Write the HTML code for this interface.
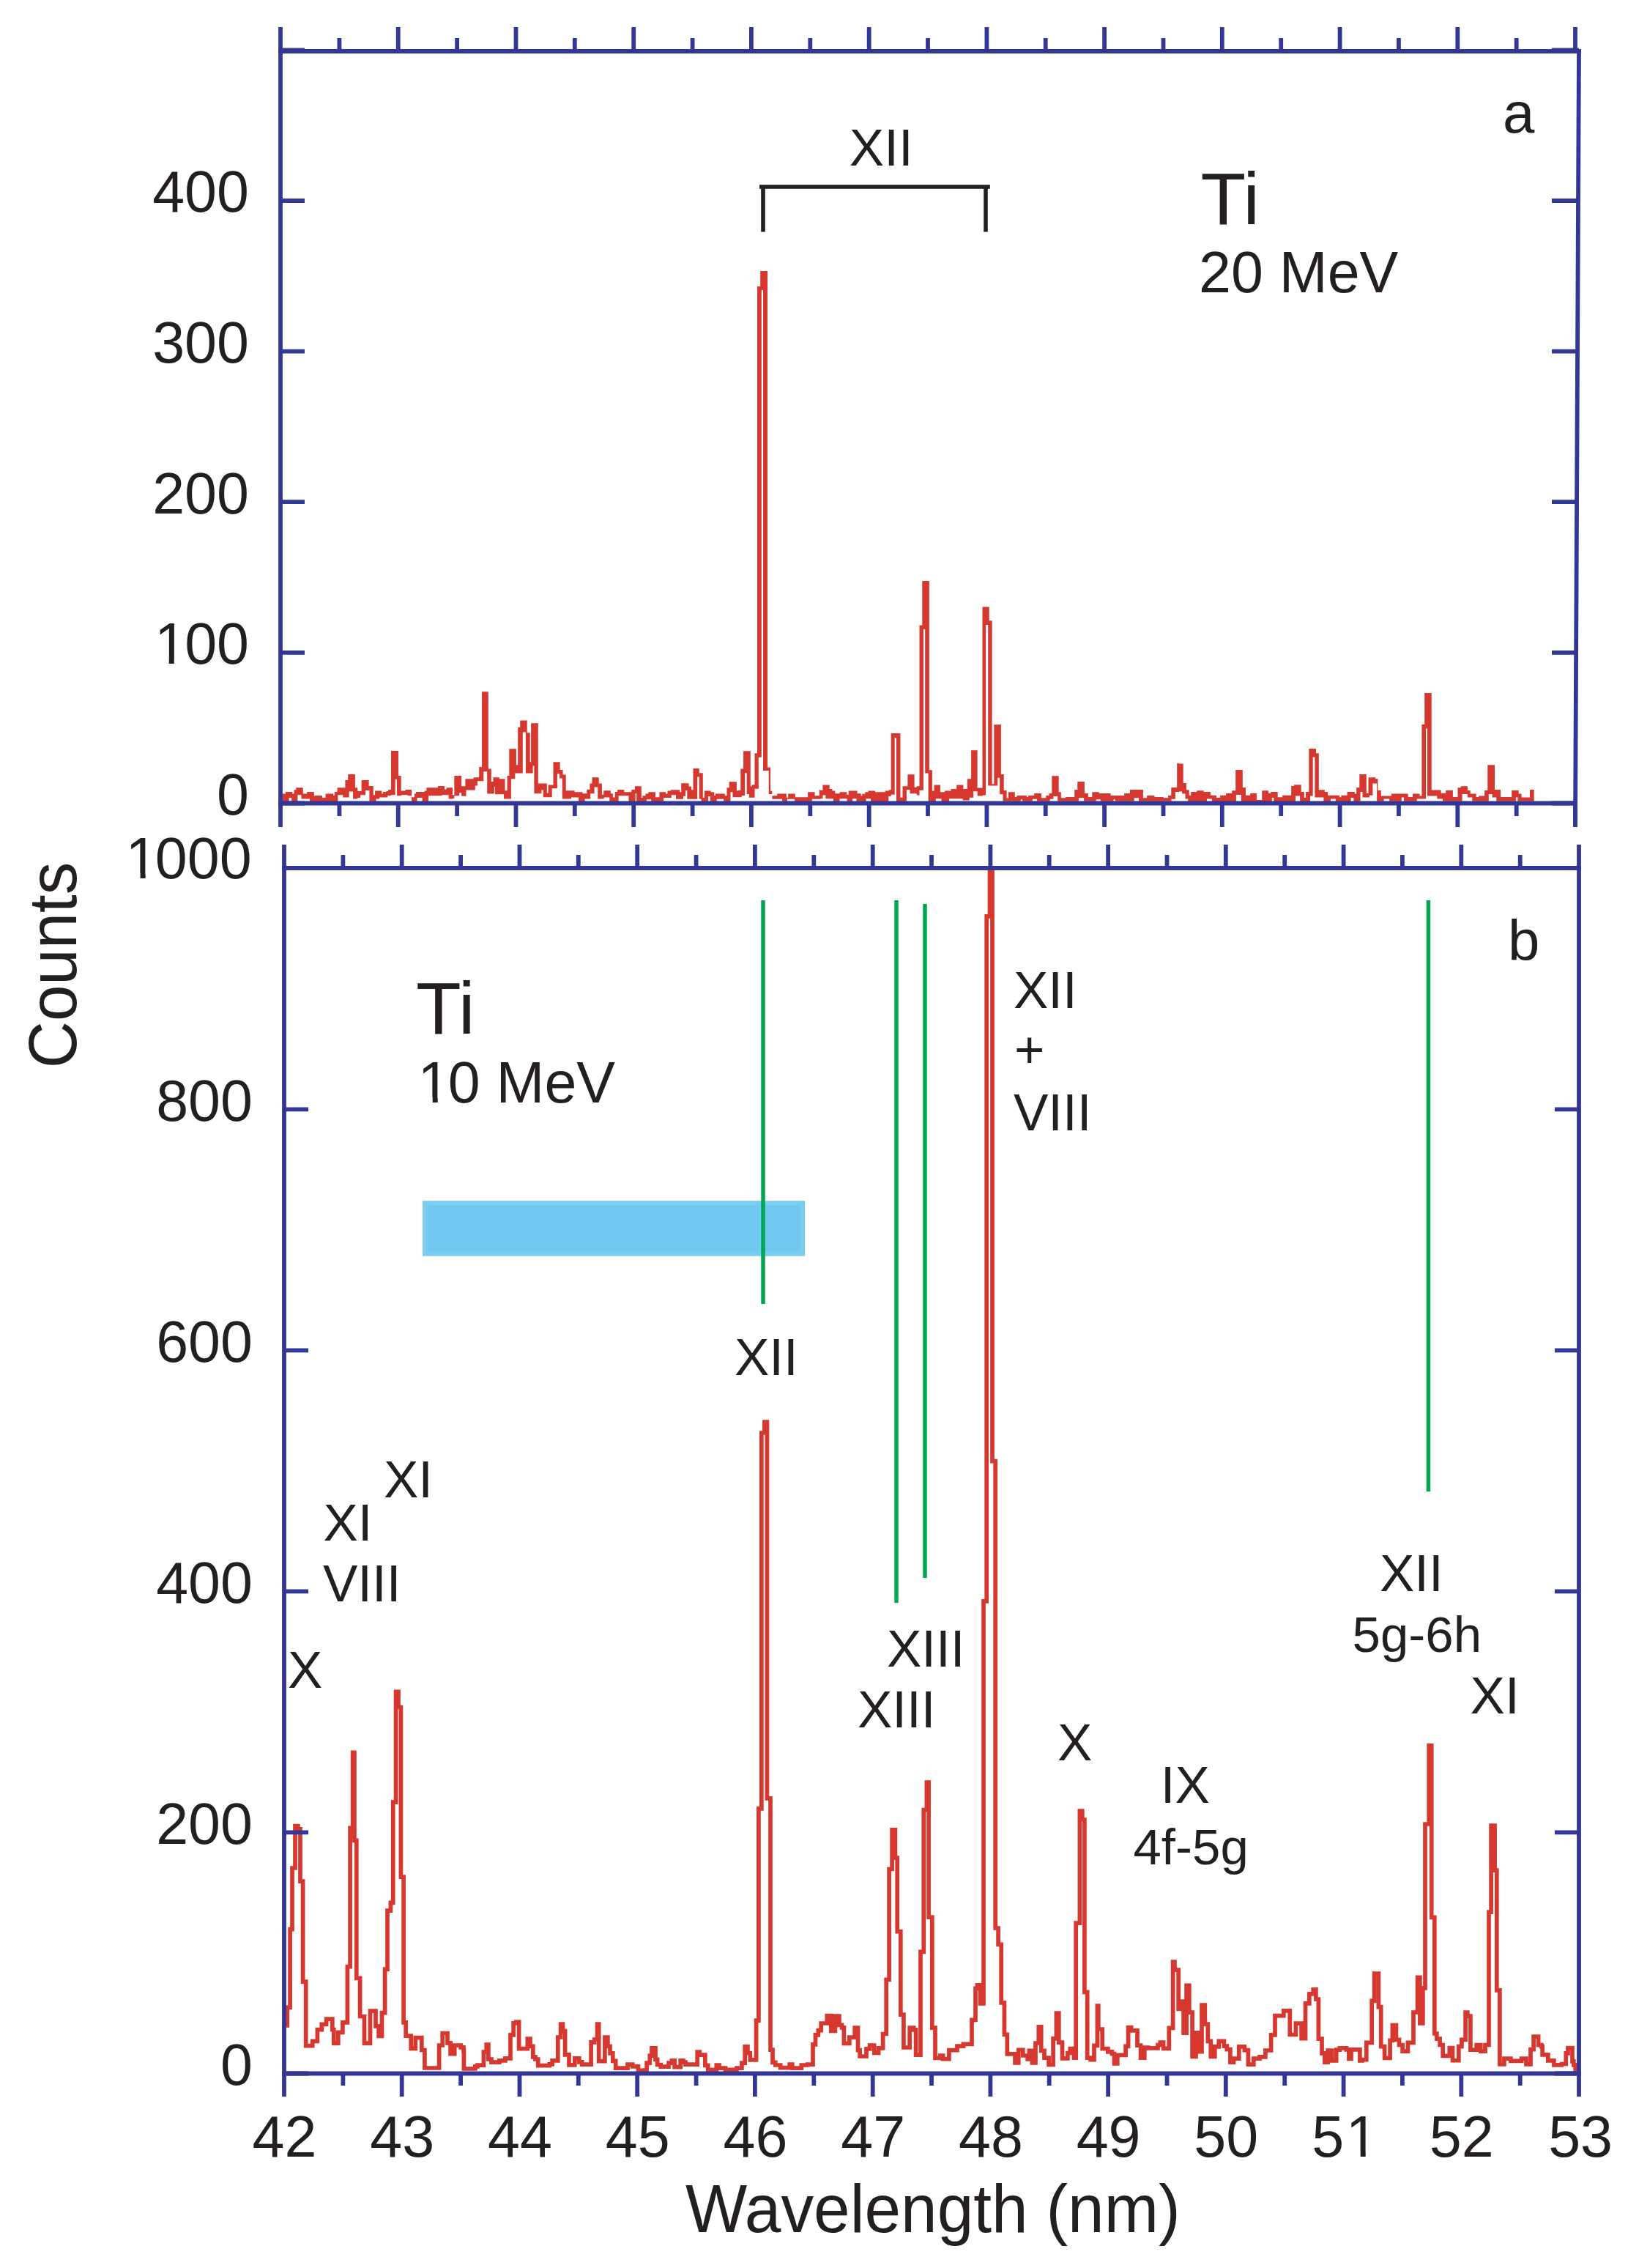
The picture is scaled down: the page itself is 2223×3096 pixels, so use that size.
<!DOCTYPE html>
<html><head><meta charset="utf-8"><title>Ti spectra</title>
<style>html,body{margin:0;padding:0;background:#fff;width:2223px;height:3096px;overflow:hidden}svg{display:block}</style>
</head><body>
<svg width="2223" height="3096" viewBox="0 0 2223 3096" font-family="'Liberation Sans', Arial, Helvetica, sans-serif" fill="#231f20">
<rect width="2223" height="3096" fill="#fff"/>
<path d="M390.8,2764.8H392.2V2740.3H396.1V2633.6H399.0V2550.0H403.0V2492.7H406.9V2496.9H410.0V2568.2H413.6V2705.2H417.7V2792.7H426.7V2786.4H433.4V2770.6H439.3V2763.4H445.6V2756.1H453.8V2770.6H455.8V2789.1H461.8V2774.3H467.9V2760.9H474.4V2684.6H478.1V2495.4H481.7V2392.3H483.9V2512.4H486.8V2700.3H491.6V2752.5H497.5V2789.1H505.5V2745.2H513.0V2765.8H517.1V2779.4H521.5V2747.6H525.6V2688.2H529.0V2608.2H533.4V2597.3H536.7V2460.2H540.6V2309.4H544.0V2330.5H547.4V2562.1H551.1V2760.9H554.2V2779.1H561.2V2796.4H567.3V2781.6H575.8V2798.5H579.9V2823.0H599.6V2792.0H604.2V2775.5H611.0V2788.8H615.1V2803.6H620.7V2792.0H629.1V2794.9H633.0V2799.1H633.4V2824.0H648.9V2820.9H652.0V2819.1H660.4V2801.0H664.2V2791.0H666.9V2811.0H671.0V2815.1H681.9V2812.9H689.9V2809.9H697.0V2777.9H701.1V2761.8H704.9V2760.0H708.6V2796.7H720.3V2783.0H724.0V2793.3H727.8V2807.9H730.9V2811.0H734.7V2819.7H750.2V2817.9H754.1V2812.9H761.8V2781.0H765.6V2763.0H768.5V2772.6H771.6V2804.8H777.0V2818.8H784.8V2809.9H790.8V2814.8H794.6V2818.2H807.1V2787.9H811.7V2784.1H815.5V2763.0H817.7V2813.7H825.9V2781.0H829.9V2793.3H833.0V2802.8H836.8V2813.3H840.7V2823.2H857.0V2818.2H863.7V2820.9H871.4V2826.3H880.0V2826.2H883.1V2816.2H887.3V2806.2H890.0V2795.9H895.0V2811.3H897.6V2818.5H902.2V2821.1H913.1V2816.2H917.4V2812.8H921.1V2821.7H929.2V2812.8H932.9V2815.0H936.0V2818.1H952.2V2801.2H955.2V2805.2H962.8V2819.3H966.7V2825.4H978.3V2819.0H982.0V2823.1H990.5V2825.4H1006.0V2823.1H1012.9V2816.2H1017.2V2793.9H1020.9V2802.7H1024.3V2811.9H1032.6V2758.2H1035.9V2468.9H1039.8V1956.0H1043.9V1941.1H1047.4V2454.9H1052.0V2798.1H1055.0V2815.4H1058.8V2819.0H1065.7V2822.7H1078.2V2818.1H1081.8V2823.1H1094.3V2819.0H1102.7V2818.1H1110.0V2790.9H1113.5V2777.8H1117.3V2771.7H1121.2V2762.0H1125.0V2762.0H1129.3V2751.5H1134.8V2772.4H1140.4V2752.0H1145.9V2764.4H1149.6V2767.8H1152.4V2789.4H1159.8V2781.1H1167.2V2768.1H1171.5V2798.7H1174.1V2807.0H1183.0V2796.9H1187.6V2792.2H1193.7V2802.4H1199.6V2795.9H1205.6V2776.5H1210.2V2702.4H1214.1V2551.5H1218.1V2497.8H1222.4V2536.1H1225.2V2636.7H1229.8V2750.2H1233.9V2795.0H1242.2V2768.1H1247.8V2770.9H1250.6V2805.2H1257.0V2664.4H1261.3V2470.6H1265.4V2433.0H1268.1V2617.2H1272.8V2768.1H1277.0V2809.4H1283.9V2806.1H1287.6V2810.7H1295.9V2798.7H1307.0V2793.1H1315.4V2790.4H1327.0V2757.4H1332.0V2714.4H1334.4V2709.8H1338.5V2734.8H1343.0V2185.9H1347.2V1250.9H1351.5V1185.9H1355.0V1994.6H1359.2V2632.0H1363.1V2654.3H1367.2V2733.9H1370.0V2733.9H1371.4V2777.4H1375.3V2803.9H1386.0V2816.0H1390.8V2798.4H1396.8V2806.0H1403.2V2810.8H1405.4V2799.3H1409.4V2816.0H1414.0V2789.0H1418.3V2766.9H1421.7V2799.3H1426.0V2809.1H1432.1V2818.5H1438.1V2782.9H1442.4V2748.2H1445.8V2788.1H1450.5V2809.9H1457.9V2802.5H1461.3V2796.7H1466.5V2809.1H1469.2V2625.1H1474.4V2472.0H1477.8V2484.0H1480.9V2719.3H1484.7V2809.1H1489.2V2811.7H1494.0V2792.4H1498.4V2738.2H1499.8V2770.0H1505.2V2796.7H1512.9V2800.8H1518.4V2803.6H1521.5V2816.8H1525.8V2805.3H1537.1V2793.3H1540.6V2767.5H1544.7V2771.8H1553.0V2792.2H1557.6V2809.1H1562.8V2795.0H1567.6V2795.8H1581.0V2791.5H1584.4V2788.1H1588.6V2796.3H1596.3V2768.3H1601.6V2678.0H1604.0V2689.2H1609.2V2742.3H1611.8V2732.0H1615.0V2734.8H1616.1V2775.2H1620.1V2710.3H1623.8V2747.1H1628.1V2807.5H1633.0V2774.8H1636.1V2800.6H1641.0V2737.1H1645.3V2763.2H1649.3V2786.3H1653.3V2807.5H1658.8V2793.9H1664.2V2786.3H1671.4V2793.2H1675.3V2797.6H1679.9V2815.1H1684.5V2810.1H1691.8V2793.9H1699.4V2798.6H1704.4V2818.2H1711.8V2810.1H1720.0V2807.8H1727.9V2799.0H1735.6V2777.8H1741.0V2751.7H1752.8V2744.8H1761.3V2777.5H1769.4V2762.0H1777.1V2782.6H1782.5V2734.8H1787.8V2721.8H1793.2V2715.9H1796.9V2729.0H1800.4V2783.2H1805.0V2802.9H1808.9V2815.1H1813.2V2799.0H1818.8V2812.8H1824.7V2798.1H1829.3V2795.9H1838.5V2797.8H1841.9V2810.5H1845.0V2797.8H1856.9V2812.8H1860.0V2811.6H1865.8V2788.4H1873.2V2731.4H1876.6V2694.1H1882.4V2739.7H1885.7V2793.6H1890.6V2809.5H1898.1V2785.3H1901.4V2764.6H1906.4V2784.3H1910.5V2791.5H1915.1V2800.2H1922.4V2788.4H1930.0V2747.0H1935.6V2699.3H1938.9V2761.9H1942.9V2713.8H1946.0V2490.0H1951.2V2382.8H1954.7V2617.4H1958.8V2776.0H1961.9V2783.2H1966.1V2791.5H1970.2V2806.4H1979.3V2795.7H1983.5V2812.6H1991.8V2793.6H1995.9V2784.3H2001.1V2747.0H2003.8V2752.1H2007.9V2798.1H2016.2V2791.5H2021.8V2800.2H2028.0V2791.5H2033.0V2610.2H2036.1V2492.1H2041.1V2553.2H2043.8V2716.9H2047.9V2817.8H2053.9V2810.2H2062.9V2813.3H2077.6V2810.2H2084.0V2817.8H2090.0V2797.7H2094.1V2780.1H2100.6V2791.7H2105.0V2793.9H2106.1V2804.9H2113.8V2812.9H2121.9V2818.8H2132.5V2817.5H2138.3V2802.8H2141.0V2795.7H2147.0V2813.8H2148.8V2818.9H2151.2V2825.3H2153.1" fill="none" stroke="#d6372e" stroke-width="5.7" stroke-linejoin="miter" stroke-miterlimit="10"/>
<path d="M385.8,1083.4 L390.0,1083.4 L390.0,1081.1 L399.2,1081.1 L399.2,1083.4 L401.5,1083.4 L401.5,1078.3 L404.3,1078.3 L404.3,1075.3 L413.8,1075.3 L413.8,1083.4 L419.2,1083.4 L419.2,1081.1 L428.8,1081.1 L428.8,1086.3 L430.7,1086.3 L430.7,1086.0 L439.9,1086.0 L439.9,1089.1 L444.5,1089.1 L444.5,1083.4 L455.2,1083.4 L455.2,1086.0 L456.8,1086.0 L456.8,1081.1 L460.6,1081.1 L460.6,1075.3 L471.4,1075.3 L471.4,1065.0 L475.2,1065.0 L475.2,1057.1 L484.9,1057.1 L484.9,1075.3 L488.3,1075.3 L488.3,1079.9 L493.6,1079.9 L493.6,1065.0 L503.6,1065.0 L503.6,1073.0 L509.8,1073.0 L509.8,1085.2 L512.1,1085.2 L512.1,1079.4 L521.0,1079.4 L521.0,1083.4 L522.8,1083.4 L522.8,1081.1 L527.4,1081.1 L527.4,1079.9 L530.2,1079.9 L530.2,1078.0 L534.0,1078.0 L534.0,1025.0 L544.0,1025.0 L544.0,1059.1 L547.7,1059.1 L547.7,1079.4 L553.5,1079.4 L553.5,1078.0 L562.0,1078.0 L562.0,1088.3 L565.8,1088.3 L565.8,1083.4 L568.1,1083.4 L568.1,1081.1 L579.6,1081.1 L579.6,1079.4 L582.4,1079.4 L582.4,1075.3 L598.1,1075.3 L598.1,1073.0 L607.0,1073.0 L607.0,1077.6 L609.6,1077.6 L609.6,1075.3 L618.0,1075.3 L618.0,1085.2 L620.3,1085.2 L620.3,1059.1 L630.1,1059.1 L630.1,1073.2 L635.4,1073.2 L635.4,1063.2 L646.5,1063.2 L646.5,1061.2 L654.2,1061.2 L654.2,1047.1 L658.0,1047.1 L658.0,944.2 L666.8,944.2 L666.8,1049.4 L670.8,1049.4 L670.8,1067.1 L673.4,1067.1 L673.4,1061.2 L681.8,1061.2 L681.8,1063.2 L689.5,1063.2 L689.5,1079.3 L692.6,1079.3 L692.6,1059.1 L695.3,1059.1 L695.3,1022.2 L704.9,1022.2 L704.9,1044.3 L707.2,1044.3 L707.2,993.0 L710.2,993.0 L710.2,983.4 L719.7,983.4 L719.7,1000.3 L723.7,1000.3 L723.7,1040.2 L725.1,1040.2 L725.1,987.2 L734.8,987.2 L734.8,1069.4 L746.8,1069.4 L746.8,1082.4 L748.6,1082.4 L748.6,1071.4 L755.5,1071.4 L755.5,1040.2 L764.7,1040.2 L764.7,1050.9 L768.6,1050.9 L768.6,1057.4 L772.7,1057.4 L772.7,1079.3 L784.7,1079.3 L784.7,1081.2 L795.5,1081.2 L795.5,1083.2 L801.3,1083.2 L801.3,1077.8 L805.4,1077.8 L805.4,1069.4 L808.5,1069.4 L808.5,1061.2 L817.7,1061.2 L817.7,1069.4 L821.9,1069.4 L821.9,1084.7 L824.3,1084.7 L824.3,1079.3 L833.8,1079.3 L833.8,1083.2 L836.9,1083.2 L836.9,1088.6 L839.7,1088.6 L839.7,1080.9 L843.1,1080.9 L843.1,1078.1 L852.3,1078.1 L852.3,1081.2 L862.3,1081.2 L862.3,1078.1 L866.9,1078.1 L866.9,1073.2 L875.1,1073.2 L875.1,1073.3 L875.8,1073.3 L875.8,1089.0 L877.4,1089.0 L877.4,1086.2 L881.5,1086.2 L881.5,1083.6 L885.4,1083.6 L885.4,1081.3 L894.9,1081.3 L894.9,1088.2 L900.4,1088.2 L900.4,1081.3 L909.2,1081.3 L909.2,1083.6 L911.5,1083.6 L911.5,1079.5 L915.8,1079.5 L915.8,1078.2 L928.4,1078.2 L928.4,1081.3 L930.2,1081.3 L930.2,1069.3 L940.6,1069.3 L940.6,1073.6 L944.0,1073.6 L944.0,1078.2 L946.5,1078.2 L946.5,1049.1 L954.8,1049.1 L954.8,1055.2 L959.8,1055.2 L959.8,1089.0 L961.8,1089.0 L961.8,1079.5 L970.6,1079.5 L970.6,1081.3 L975.2,1081.3 L975.2,1085.9 L976.7,1085.9 L976.7,1083.6 L989.8,1083.6 L989.8,1086.2 L992.5,1086.2 L992.5,1075.2 L995.6,1075.2 L995.6,1067.2 L1005.9,1067.2 L1005.9,1079.5 L1007.4,1079.5 L1007.4,1079.0 L1011.3,1079.0 L1011.3,1049.4 L1015.1,1049.4 L1015.1,1025.3 L1024.8,1025.3 L1024.8,1073.6 L1026.6,1073.6 L1026.6,1071.3 L1030.5,1071.3 L1030.5,1028.3 L1034.0,1028.3 L1034.0,391.1 L1038.2,391.1 L1038.2,370.0 L1048.0,370.0 L1048.0,1047.5 L1052.0,1047.5 L1052.0,1079.8 L1054.3,1079.8 L1054.3,1086.2 L1061.2,1086.2 L1061.2,1083.6 L1073.9,1083.6 L1073.9,1089.0 L1076.1,1089.0 L1076.1,1083.6 L1085.8,1083.6 L1085.8,1088.2 L1103.1,1088.2 L1103.1,1081.3 L1112.6,1081.3 L1112.6,1086.2 L1118.8,1086.2 L1118.8,1078.2 L1120.1,1078.2 L1120.1,1078.7 L1123.4,1078.7 L1123.4,1071.5 L1132.7,1071.5 L1132.7,1077.1 L1136.5,1077.1 L1136.5,1079.4 L1140.3,1079.4 L1140.3,1083.3 L1146.5,1083.3 L1146.5,1081.3 L1156.2,1081.3 L1156.2,1084.8 L1158.8,1084.8 L1158.8,1079.4 L1170.6,1079.4 L1170.6,1083.3 L1175.7,1083.3 L1175.7,1086.4 L1177.2,1086.4 L1177.2,1083.7 L1181.3,1083.7 L1181.3,1081.3 L1185.6,1081.3 L1185.6,1079.4 L1194.9,1079.4 L1194.9,1081.3 L1208.7,1081.3 L1208.7,1079.4 L1213.7,1079.4 L1213.7,1078.2 L1216.7,1078.2 L1216.7,1001.1 L1229.4,1001.1 L1229.4,1088.7 L1232.5,1088.7 L1232.5,1073.3 L1239.4,1073.3 L1239.4,1057.2 L1248.6,1057.2 L1248.6,1074.8 L1251.7,1074.8 L1251.7,1073.3 L1255.5,1073.3 L1255.5,853.4 L1259.3,853.4 L1259.3,793.1 L1268.9,793.1 L1268.9,1051.3 L1272.9,1051.3 L1272.9,1079.4 L1275.5,1079.4 L1275.5,1071.5 L1283.9,1071.5 L1283.9,1081.3 L1290.1,1081.3 L1290.1,1079.4 L1298.5,1079.4 L1298.5,1077.1 L1306.2,1077.1 L1306.2,1071.5 L1315.4,1071.5 L1315.4,1077.1 L1320.8,1077.1 L1320.8,1063.3 L1326.1,1063.3 L1326.1,1024.2 L1334.6,1024.2 L1334.6,1075.6 L1341.5,1075.6 L1341.5,828.4 L1350.7,828.4 L1350.7,847.3 L1354.6,847.3 L1354.6,1070.2 L1357.3,1070.2 L1357.3,989.2 L1365.1,989.2 L1365.1,989.1 L1366.9,989.1 L1366.9,1056.9 L1370.7,1056.9 L1370.7,1078.9 L1374.6,1078.9 L1374.6,1089.6 L1376.9,1089.6 L1376.9,1081.2 L1385.8,1081.2 L1385.8,1088.1 L1388.4,1088.1 L1388.4,1086.1 L1401.8,1086.1 L1401.8,1088.1 L1404.2,1088.1 L1404.2,1086.1 L1412.2,1086.1 L1412.2,1083.0 L1421.9,1083.0 L1421.9,1089.2 L1428.3,1089.2 L1428.3,1086.1 L1432.5,1086.1 L1432.5,1083.0 L1436.3,1083.0 L1436.3,1059.2 L1445.7,1059.2 L1445.7,1081.2 L1448.8,1081.2 L1448.8,1089.2 L1455.2,1089.2 L1455.2,1088.1 L1467.2,1088.1 L1467.2,1078.1 L1471.3,1078.1 L1471.3,1067.1 L1480.9,1067.1 L1480.9,1083.0 L1485.9,1083.0 L1485.9,1088.1 L1491.3,1088.1 L1491.3,1081.2 L1500.8,1081.2 L1500.8,1083.0 L1516.6,1083.0 L1516.6,1086.1 L1535.1,1086.1 L1535.1,1083.0 L1543.0,1083.0 L1543.0,1078.1 L1560.9,1078.1 L1560.9,1089.2 L1566.1,1089.2 L1566.1,1086.1 L1576.5,1086.1 L1576.5,1088.1 L1588.8,1088.1 L1588.8,1089.2 L1595.0,1089.2 L1595.0,1086.1 L1599.3,1086.1 L1599.3,1075.1 L1607.2,1075.1 L1607.2,1042.0 L1610.1,1042.0 L1610.1,1042.4 L1615.7,1042.4 L1615.7,1069.0 L1619.9,1069.0 L1619.9,1078.2 L1623.7,1078.2 L1623.7,1085.8 L1626.2,1085.8 L1626.2,1080.9 L1634.2,1080.9 L1634.2,1079.2 L1643.7,1079.2 L1643.7,1080.9 L1652.9,1080.9 L1652.9,1085.8 L1661.1,1085.8 L1661.1,1088.9 L1666.1,1088.9 L1666.1,1085.8 L1674.1,1085.8 L1674.1,1083.1 L1682.2,1083.1 L1682.2,1079.2 L1687.2,1079.2 L1687.2,1051.0 L1696.8,1051.0 L1696.8,1075.1 L1701.0,1075.1 L1701.0,1085.8 L1707.1,1085.8 L1707.1,1083.1 L1715.9,1083.1 L1715.9,1092.0 L1723.2,1092.0 L1723.2,1079.2 L1732.1,1079.2 L1732.1,1083.1 L1735.2,1083.1 L1735.2,1080.9 L1744.7,1080.9 L1744.7,1088.2 L1751.2,1088.2 L1751.2,1085.8 L1763.2,1085.8 L1763.2,1073.1 L1767.0,1073.1 L1767.0,1071.3 L1776.7,1071.3 L1776.7,1080.9 L1780.8,1080.9 L1780.8,1088.9 L1783.1,1088.9 L1783.1,1080.9 L1787.3,1080.9 L1787.3,1022.1 L1797.0,1022.1 L1797.0,1028.3 L1800.8,1028.3 L1800.8,1078.2 L1808.9,1078.2 L1808.9,1080.9 L1813.1,1080.9 L1813.1,1085.8 L1828.9,1085.8 L1828.9,1088.2 L1831.5,1088.2 L1831.5,1085.8 L1839.5,1085.8 L1839.5,1080.9 L1849.9,1080.9 L1849.9,1083.5 L1852.2,1083.5 L1852.2,1075.1 L1855.0,1075.1 L1855.0,1075.2 L1856.3,1075.2 L1856.3,1057.1 L1865.8,1057.1 L1865.8,1082.8 L1868.5,1082.8 L1868.5,1061.3 L1878.2,1061.3 L1878.2,1063.2 L1881.4,1063.2 L1881.4,1079.0 L1885.8,1079.0 L1885.8,1086.6 L1899.9,1086.6 L1899.9,1083.4 L1922.7,1083.4 L1922.7,1087.9 L1929.0,1087.9 L1929.0,1083.4 L1938.5,1083.4 L1938.5,1086.6 L1941.4,1086.6 L1941.4,989.1 L1945.2,989.1 L1945.2,946.1 L1954.7,946.1 L1954.7,1078.4 L1967.7,1078.4 L1967.7,1082.8 L1974.2,1082.8 L1974.2,1079.0 L1983.9,1079.0 L1983.9,1087.9 L1990.5,1087.9 L1990.5,1075.2 L1994.7,1075.2 L1994.7,1073.3 L2003.9,1073.3 L2003.9,1079.0 L2007.7,1079.0 L2007.7,1083.4 L2015.7,1083.4 L2015.7,1087.9 L2019.1,1087.9 L2019.1,1086.6 L2027.1,1086.6 L2027.1,1079.0 L2031.3,1079.0 L2031.3,1044.2 L2041.0,1044.2 L2041.0,1078.0 L2049.0,1078.0 L2049.0,1087.9 L2064.2,1087.9 L2064.2,1079.0 L2073.7,1079.0 L2073.7,1083.4 L2077.5,1083.4 L2077.5,1088.5 L2089.0,1088.5 L2089.0,1078.0 L2094.7,1078.0 L2094.7,1093.7 L2072.4,1093.7 L2072.4,1088.5 L2069.9,1088.5 L2069.9,1093.7 L2043.3,1093.7 L2043.3,1088.5 L2037.6,1088.5 L2037.6,1084.1 L2032.8,1084.1 L2032.8,1093.7 L2010.3,1093.7 L2010.3,1088.5 L2003.9,1088.5 L2003.9,1084.1 L1996.6,1084.1 L1996.6,1093.7 L1970.0,1093.7 L1970.0,1090.4 L1962.3,1090.4 L1962.3,1086.6 L1949.0,1086.6 L1949.0,994.6 L1947.1,994.6 L1947.1,1090.4 L1934.7,1090.4 L1934.7,1093.7 L1917.0,1093.7 L1917.0,1088.5 L1913.8,1088.5 L1913.8,1093.7 L1897.2,1093.7 L1897.2,1090.4 L1889.6,1090.4 L1889.6,1093.7 L1880.1,1093.7 L1880.1,1069.5 L1874.4,1069.5 L1874.4,1085.7 L1870.0,1085.7 L1870.0,1088.5 L1860.5,1088.5 L1860.5,1080.9 L1857.6,1080.9 L1857.6,1093.7 L1855.0,1093.7 L1855.0,1094.0 L1848.4,1094.0 L1848.4,1088.9 L1844.6,1088.9 L1844.6,1094.0 L1823.8,1094.0 L1823.8,1090.5 L1816.9,1090.5 L1816.9,1094.0 L1807.4,1094.0 L1807.4,1088.6 L1795.4,1088.6 L1795.4,1033.6 L1792.7,1033.6 L1792.7,1086.6 L1789.0,1086.6 L1789.0,1094.0 L1775.1,1094.0 L1775.1,1086.6 L1769.0,1086.6 L1769.0,1094.0 L1739.4,1094.0 L1739.4,1088.9 L1736.8,1088.9 L1736.8,1094.0 L1694.8,1094.0 L1694.8,1085.1 L1687.9,1085.1 L1687.9,1094.0 L1654.9,1094.0 L1654.9,1090.5 L1648.0,1090.5 L1648.0,1094.0 L1622.2,1094.0 L1622.2,1090.5 L1618.5,1090.5 L1618.5,1083.5 L1614.2,1083.5 L1614.2,1080.5 L1610.1,1080.5 L1610.1,1080.9 L1604.9,1080.9 L1604.9,1090.7 L1599.6,1090.7 L1599.6,1093.8 L1555.0,1093.8 L1555.0,1089.2 L1548.6,1089.2 L1548.6,1093.8 L1522.8,1093.8 L1522.8,1091.2 L1520.5,1091.2 L1520.5,1093.8 L1502.8,1093.8 L1502.8,1091.2 L1496.7,1091.2 L1496.7,1093.8 L1480.1,1093.8 L1480.1,1089.2 L1472.9,1089.2 L1472.9,1093.8 L1444.2,1093.8 L1444.2,1087.0 L1438.3,1087.0 L1438.3,1090.7 L1433.7,1090.7 L1433.7,1093.8 L1416.1,1093.8 L1416.1,1090.7 L1409.9,1090.7 L1409.9,1093.8 L1396.1,1093.8 L1396.1,1091.2 L1393.8,1091.2 L1393.8,1093.8 L1369.5,1093.8 L1369.5,1084.3 L1365.1,1084.3 L1365.1,1061.8 L1362.2,1061.8 L1362.2,1072.5 L1349.2,1072.5 L1349.2,852.9 L1346.1,852.9 L1346.1,1085.6 L1342.3,1085.6 L1342.3,1086.4 L1334.6,1086.4 L1334.6,1080.2 L1329.2,1080.2 L1329.2,1088.7 L1323.8,1088.7 L1323.8,1092.5 L1314.6,1092.5 L1314.6,1090.2 L1296.2,1090.2 L1296.2,1094.5 L1285.5,1094.5 L1285.5,1090.2 L1277.8,1090.2 L1277.8,1094.5 L1267.6,1094.5 L1267.6,1055.6 L1263.2,1055.6 L1263.2,859.1 L1260.9,859.1 L1260.9,1078.7 L1255.5,1078.7 L1255.5,1085.6 L1251.7,1085.6 L1251.7,1083.3 L1242.5,1083.3 L1242.5,1077.9 L1237.9,1077.9 L1237.9,1094.5 L1224.0,1094.5 L1224.0,1007.3 L1221.7,1007.3 L1221.7,1084.8 L1216.7,1084.8 L1216.7,1087.1 L1213.3,1087.1 L1213.3,1094.5 L1189.0,1094.5 L1189.0,1090.2 L1182.6,1090.2 L1182.6,1094.5 L1169.5,1094.5 L1169.5,1090.2 L1164.1,1090.2 L1164.1,1094.5 L1156.5,1094.5 L1156.5,1090.2 L1146.5,1090.2 L1146.5,1094.5 L1138.0,1094.5 L1138.0,1090.2 L1127.3,1090.2 L1127.3,1085.6 L1123.4,1085.6 L1123.4,1090.2 L1120.1,1090.2 L1120.1,1090.8 L1108.8,1090.8 L1108.8,1094.1 L1085.0,1094.1 L1085.0,1090.8 L1075.0,1090.8 L1075.0,1094.1 L1068.1,1094.1 L1068.1,1090.8 L1054.3,1090.8 L1054.3,1084.1 L1049.7,1084.1 L1049.7,1052.1 L1042.0,1052.1 L1042.0,396.0 L1039.8,396.0 L1039.8,1033.7 L1035.8,1033.7 L1035.8,1076.7 L1030.5,1076.7 L1030.5,1088.7 L1022.8,1088.7 L1022.8,1084.1 L1019.7,1084.1 L1019.7,1055.2 L1017.1,1055.2 L1017.1,1085.9 L1012.8,1085.9 L1012.8,1088.2 L1000.5,1088.2 L1000.5,1081.3 L997.5,1081.3 L997.5,1094.1 L988.2,1094.1 L988.2,1090.8 L978.7,1090.8 L978.7,1094.1 L969.8,1094.1 L969.8,1087.1 L967.1,1087.1 L967.1,1094.1 L957.5,1094.1 L957.5,1090.8 L954.8,1090.8 L954.8,1060.6 L952.2,1060.6 L952.2,1090.8 L938.3,1090.8 L938.3,1079.0 L936.0,1079.0 L936.0,1086.7 L933.0,1086.7 L933.0,1090.8 L923.0,1090.8 L923.0,1085.2 L916.8,1085.2 L916.8,1089.0 L906.1,1089.0 L906.1,1094.1 L889.2,1094.1 L889.2,1091.3 L883.1,1091.3 L883.1,1094.1 L875.1,1094.1 L875.1,1094.4 L869.2,1094.4 L869.2,1083.2 L867.6,1083.2 L867.6,1094.4 L858.4,1094.4 L858.4,1086.3 L844.6,1086.3 L844.6,1094.4 L832.3,1094.4 L832.3,1088.6 L824.6,1088.6 L824.6,1090.4 L816.2,1090.4 L816.2,1074.4 L811.6,1074.4 L811.6,1083.2 L806.2,1083.2 L806.2,1090.4 L798.5,1090.4 L798.5,1094.4 L790.1,1094.4 L790.1,1088.6 L780.1,1088.6 L780.1,1090.4 L767.8,1090.4 L767.8,1062.5 L764.0,1062.5 L764.0,1056.3 L760.9,1056.3 L760.9,1076.3 L753.7,1076.3 L753.7,1088.3 L741.7,1088.3 L741.7,1078.6 L739.4,1078.6 L739.4,1083.2 L729.4,1083.2 L729.4,1045.6 L727.6,1045.6 L727.6,1055.5 L717.9,1055.5 L717.9,999.5 L713.8,999.5 L713.8,1055.5 L703.3,1055.5 L703.3,1063.2 L697.9,1063.2 L697.9,1090.6 L688.0,1090.6 L688.0,1084.3 L676.0,1084.3 L676.0,1074.0 L674.9,1074.0 L674.9,1083.6 L665.2,1083.6 L665.2,1053.2 L660.3,1053.2 L660.3,1066.3 L651.9,1066.3 L651.9,1072.4 L648.8,1072.4 L648.8,1078.6 L636.5,1078.6 L636.5,1086.7 L630.1,1086.7 L630.1,1082.2 L627.2,1082.2 L627.2,1086.3 L620.3,1086.3 L620.3,1089.9 L618.0,1089.9 L618.0,1090.6 L612.6,1090.6 L612.6,1085.2 L603.4,1085.2 L603.4,1086.3 L585.0,1086.3 L585.0,1094.0 L576.6,1094.0 L576.6,1089.1 L569.6,1089.1 L569.6,1094.0 L562.0,1094.0 L562.0,1086.3 L556.6,1086.3 L556.6,1085.2 L547.7,1085.2 L547.7,1086.3 L542.0,1086.3 L542.0,1063.7 L539.7,1063.7 L539.7,1085.2 L533.6,1085.2 L533.6,1086.3 L529.0,1086.3 L529.0,1088.6 L518.2,1088.6 L518.2,1090.6 L513.6,1090.6 L513.6,1094.0 L504.4,1094.0 L504.4,1079.1 L499.0,1079.1 L499.0,1085.2 L492.1,1085.2 L492.1,1089.1 L488.3,1089.1 L488.3,1090.6 L482.1,1090.6 L482.1,1080.6 L476.7,1080.6 L476.7,1088.6 L468.3,1088.6 L468.3,1085.2 L461.4,1085.2 L461.4,1094.0 L423.0,1094.0 L423.0,1090.6 L411.5,1090.6 L411.5,1085.2 L406.4,1085.2 L406.4,1094.0 L398.1,1094.0 L398.1,1089.1 L394.6,1089.1 L394.6,1094.0 L385.8,1094.0Z" fill="#d6372e"/>
<line x1="383.0" y1="37.0" x2="383.0" y2="1129.0" stroke="#323694" stroke-width="5.8" stroke-linecap="butt"/>
<line x1="380.0" y1="70.0" x2="2159.0" y2="70.0" stroke="#323694" stroke-width="5.8" stroke-linecap="butt"/>
<line x1="380.0" y1="1096.5" x2="2154.0" y2="1096.5" stroke="#323694" stroke-width="5.8" stroke-linecap="butt"/>
<line x1="2156.0" y1="67.0" x2="2151.0" y2="1129.0" stroke="#323694" stroke-width="5.8" stroke-linecap="butt"/>
<line x1="463.4" y1="70.0" x2="463.4" y2="52.0" stroke="#323694" stroke-width="5.8" stroke-linecap="butt"/>
<line x1="463.4" y1="1096.5" x2="463.4" y2="1114.0" stroke="#323694" stroke-width="5.8" stroke-linecap="butt"/>
<line x1="543.7" y1="70.0" x2="543.7" y2="37.0" stroke="#323694" stroke-width="5.8" stroke-linecap="butt"/>
<line x1="543.7" y1="1096.5" x2="543.7" y2="1129.0" stroke="#323694" stroke-width="5.8" stroke-linecap="butt"/>
<line x1="624.1" y1="70.0" x2="624.1" y2="52.0" stroke="#323694" stroke-width="5.8" stroke-linecap="butt"/>
<line x1="624.1" y1="1096.5" x2="624.1" y2="1114.0" stroke="#323694" stroke-width="5.8" stroke-linecap="butt"/>
<line x1="704.5" y1="70.0" x2="704.5" y2="37.0" stroke="#323694" stroke-width="5.8" stroke-linecap="butt"/>
<line x1="704.5" y1="1096.5" x2="704.5" y2="1129.0" stroke="#323694" stroke-width="5.8" stroke-linecap="butt"/>
<line x1="784.8" y1="70.0" x2="784.8" y2="52.0" stroke="#323694" stroke-width="5.8" stroke-linecap="butt"/>
<line x1="784.8" y1="1096.5" x2="784.8" y2="1114.0" stroke="#323694" stroke-width="5.8" stroke-linecap="butt"/>
<line x1="865.2" y1="70.0" x2="865.2" y2="37.0" stroke="#323694" stroke-width="5.8" stroke-linecap="butt"/>
<line x1="865.2" y1="1096.5" x2="865.2" y2="1129.0" stroke="#323694" stroke-width="5.8" stroke-linecap="butt"/>
<line x1="945.6" y1="70.0" x2="945.6" y2="52.0" stroke="#323694" stroke-width="5.8" stroke-linecap="butt"/>
<line x1="945.6" y1="1096.5" x2="945.6" y2="1114.0" stroke="#323694" stroke-width="5.8" stroke-linecap="butt"/>
<line x1="1025.9" y1="70.0" x2="1025.9" y2="37.0" stroke="#323694" stroke-width="5.8" stroke-linecap="butt"/>
<line x1="1025.9" y1="1096.5" x2="1025.9" y2="1129.0" stroke="#323694" stroke-width="5.8" stroke-linecap="butt"/>
<line x1="1106.3" y1="70.0" x2="1106.3" y2="52.0" stroke="#323694" stroke-width="5.8" stroke-linecap="butt"/>
<line x1="1106.3" y1="1096.5" x2="1106.3" y2="1114.0" stroke="#323694" stroke-width="5.8" stroke-linecap="butt"/>
<line x1="1186.7" y1="70.0" x2="1186.7" y2="37.0" stroke="#323694" stroke-width="5.8" stroke-linecap="butt"/>
<line x1="1186.7" y1="1096.5" x2="1186.7" y2="1129.0" stroke="#323694" stroke-width="5.8" stroke-linecap="butt"/>
<line x1="1267.0" y1="70.0" x2="1267.0" y2="52.0" stroke="#323694" stroke-width="5.8" stroke-linecap="butt"/>
<line x1="1267.0" y1="1096.5" x2="1267.0" y2="1114.0" stroke="#323694" stroke-width="5.8" stroke-linecap="butt"/>
<line x1="1347.4" y1="70.0" x2="1347.4" y2="37.0" stroke="#323694" stroke-width="5.8" stroke-linecap="butt"/>
<line x1="1347.4" y1="1096.5" x2="1347.4" y2="1129.0" stroke="#323694" stroke-width="5.8" stroke-linecap="butt"/>
<line x1="1427.7" y1="70.0" x2="1427.7" y2="52.0" stroke="#323694" stroke-width="5.8" stroke-linecap="butt"/>
<line x1="1427.7" y1="1096.5" x2="1427.7" y2="1114.0" stroke="#323694" stroke-width="5.8" stroke-linecap="butt"/>
<line x1="1508.1" y1="70.0" x2="1508.1" y2="37.0" stroke="#323694" stroke-width="5.8" stroke-linecap="butt"/>
<line x1="1508.1" y1="1096.5" x2="1508.1" y2="1129.0" stroke="#323694" stroke-width="5.8" stroke-linecap="butt"/>
<line x1="1588.5" y1="70.0" x2="1588.5" y2="52.0" stroke="#323694" stroke-width="5.8" stroke-linecap="butt"/>
<line x1="1588.5" y1="1096.5" x2="1588.5" y2="1114.0" stroke="#323694" stroke-width="5.8" stroke-linecap="butt"/>
<line x1="1668.8" y1="70.0" x2="1668.8" y2="37.0" stroke="#323694" stroke-width="5.8" stroke-linecap="butt"/>
<line x1="1668.8" y1="1096.5" x2="1668.8" y2="1129.0" stroke="#323694" stroke-width="5.8" stroke-linecap="butt"/>
<line x1="1749.2" y1="70.0" x2="1749.2" y2="52.0" stroke="#323694" stroke-width="5.8" stroke-linecap="butt"/>
<line x1="1749.2" y1="1096.5" x2="1749.2" y2="1114.0" stroke="#323694" stroke-width="5.8" stroke-linecap="butt"/>
<line x1="1829.6" y1="70.0" x2="1829.6" y2="37.0" stroke="#323694" stroke-width="5.8" stroke-linecap="butt"/>
<line x1="1829.6" y1="1096.5" x2="1829.6" y2="1129.0" stroke="#323694" stroke-width="5.8" stroke-linecap="butt"/>
<line x1="1909.9" y1="70.0" x2="1909.9" y2="52.0" stroke="#323694" stroke-width="5.8" stroke-linecap="butt"/>
<line x1="1909.9" y1="1096.5" x2="1909.9" y2="1114.0" stroke="#323694" stroke-width="5.8" stroke-linecap="butt"/>
<line x1="1990.3" y1="70.0" x2="1990.3" y2="37.0" stroke="#323694" stroke-width="5.8" stroke-linecap="butt"/>
<line x1="1990.3" y1="1096.5" x2="1990.3" y2="1129.0" stroke="#323694" stroke-width="5.8" stroke-linecap="butt"/>
<line x1="2070.7" y1="70.0" x2="2070.7" y2="52.0" stroke="#323694" stroke-width="5.8" stroke-linecap="butt"/>
<line x1="2070.7" y1="1096.5" x2="2070.7" y2="1114.0" stroke="#323694" stroke-width="5.8" stroke-linecap="butt"/>
<line x1="2151.0" y1="70.0" x2="2151.0" y2="37.0" stroke="#323694" stroke-width="5.8" stroke-linecap="butt"/>
<line x1="2151.0" y1="1096.5" x2="2151.0" y2="1129.0" stroke="#323694" stroke-width="5.8" stroke-linecap="butt"/>
<line x1="383.0" y1="1096.5" x2="416.0" y2="1096.5" stroke="#323694" stroke-width="5.8" stroke-linecap="butt"/>
<line x1="2151.2" y1="1096.5" x2="2119.0" y2="1096.5" stroke="#323694" stroke-width="5.8" stroke-linecap="butt"/>
<line x1="383.0" y1="890.9" x2="416.0" y2="890.9" stroke="#323694" stroke-width="5.8" stroke-linecap="butt"/>
<line x1="2152.1" y1="890.9" x2="2119.0" y2="890.9" stroke="#323694" stroke-width="5.8" stroke-linecap="butt"/>
<line x1="383.0" y1="685.2" x2="416.0" y2="685.2" stroke="#323694" stroke-width="5.8" stroke-linecap="butt"/>
<line x1="2153.1" y1="685.2" x2="2119.0" y2="685.2" stroke="#323694" stroke-width="5.8" stroke-linecap="butt"/>
<line x1="383.0" y1="479.6" x2="416.0" y2="479.6" stroke="#323694" stroke-width="5.8" stroke-linecap="butt"/>
<line x1="2154.1" y1="479.6" x2="2119.0" y2="479.6" stroke="#323694" stroke-width="5.8" stroke-linecap="butt"/>
<line x1="383.0" y1="274.0" x2="416.0" y2="274.0" stroke="#323694" stroke-width="5.8" stroke-linecap="butt"/>
<line x1="2155.0" y1="274.0" x2="2119.0" y2="274.0" stroke="#323694" stroke-width="5.8" stroke-linecap="butt"/>
<line x1="383.0" y1="68.4" x2="416.0" y2="68.4" stroke="#323694" stroke-width="5.8" stroke-linecap="butt"/>
<line x1="2156.0" y1="68.4" x2="2119.0" y2="68.4" stroke="#323694" stroke-width="5.8" stroke-linecap="butt"/>
<text x="340.0" y="1111.8" font-size="79" text-anchor="end" >0</text>
<text y="906.2" font-size="79"><tspan x="210.89">1</tspan><tspan x="252.13">00</tspan></text>
<text x="340.0" y="700.5" font-size="79" text-anchor="end" >200</text>
<text x="340.0" y="494.9" font-size="79" text-anchor="end" >300</text>
<text x="340.0" y="289.3" font-size="79" text-anchor="end" >400</text>
<line x1="388.0" y1="1153.0" x2="388.0" y2="2862.0" stroke="#323694" stroke-width="5.8" stroke-linecap="butt"/>
<line x1="385.0" y1="1185.0" x2="2159.0" y2="1185.0" stroke="#323694" stroke-width="5.8" stroke-linecap="butt"/>
<line x1="385.0" y1="2830.5" x2="2159.0" y2="2830.5" stroke="#323694" stroke-width="5.8" stroke-linecap="butt"/>
<line x1="2156.0" y1="1153.0" x2="2156.0" y2="2862.0" stroke="#323694" stroke-width="5.8" stroke-linecap="butt"/>
<line x1="468.4" y1="1185.0" x2="468.4" y2="1167.0" stroke="#323694" stroke-width="5.8" stroke-linecap="butt"/>
<line x1="468.4" y1="2830.5" x2="468.4" y2="2847.0" stroke="#323694" stroke-width="5.8" stroke-linecap="butt"/>
<line x1="548.7" y1="1185.0" x2="548.7" y2="1153.0" stroke="#323694" stroke-width="5.8" stroke-linecap="butt"/>
<line x1="548.7" y1="2830.5" x2="548.7" y2="2862.0" stroke="#323694" stroke-width="5.8" stroke-linecap="butt"/>
<line x1="629.1" y1="1185.0" x2="629.1" y2="1167.0" stroke="#323694" stroke-width="5.8" stroke-linecap="butt"/>
<line x1="629.1" y1="2830.5" x2="629.1" y2="2847.0" stroke="#323694" stroke-width="5.8" stroke-linecap="butt"/>
<line x1="709.5" y1="1185.0" x2="709.5" y2="1153.0" stroke="#323694" stroke-width="5.8" stroke-linecap="butt"/>
<line x1="709.5" y1="2830.5" x2="709.5" y2="2862.0" stroke="#323694" stroke-width="5.8" stroke-linecap="butt"/>
<line x1="789.8" y1="1185.0" x2="789.8" y2="1167.0" stroke="#323694" stroke-width="5.8" stroke-linecap="butt"/>
<line x1="789.8" y1="2830.5" x2="789.8" y2="2847.0" stroke="#323694" stroke-width="5.8" stroke-linecap="butt"/>
<line x1="870.2" y1="1185.0" x2="870.2" y2="1153.0" stroke="#323694" stroke-width="5.8" stroke-linecap="butt"/>
<line x1="870.2" y1="2830.5" x2="870.2" y2="2862.0" stroke="#323694" stroke-width="5.8" stroke-linecap="butt"/>
<line x1="950.6" y1="1185.0" x2="950.6" y2="1167.0" stroke="#323694" stroke-width="5.8" stroke-linecap="butt"/>
<line x1="950.6" y1="2830.5" x2="950.6" y2="2847.0" stroke="#323694" stroke-width="5.8" stroke-linecap="butt"/>
<line x1="1030.9" y1="1185.0" x2="1030.9" y2="1153.0" stroke="#323694" stroke-width="5.8" stroke-linecap="butt"/>
<line x1="1030.9" y1="2830.5" x2="1030.9" y2="2862.0" stroke="#323694" stroke-width="5.8" stroke-linecap="butt"/>
<line x1="1111.3" y1="1185.0" x2="1111.3" y2="1167.0" stroke="#323694" stroke-width="5.8" stroke-linecap="butt"/>
<line x1="1111.3" y1="2830.5" x2="1111.3" y2="2847.0" stroke="#323694" stroke-width="5.8" stroke-linecap="butt"/>
<line x1="1191.7" y1="1185.0" x2="1191.7" y2="1153.0" stroke="#323694" stroke-width="5.8" stroke-linecap="butt"/>
<line x1="1191.7" y1="2830.5" x2="1191.7" y2="2862.0" stroke="#323694" stroke-width="5.8" stroke-linecap="butt"/>
<line x1="1272.0" y1="1185.0" x2="1272.0" y2="1167.0" stroke="#323694" stroke-width="5.8" stroke-linecap="butt"/>
<line x1="1272.0" y1="2830.5" x2="1272.0" y2="2847.0" stroke="#323694" stroke-width="5.8" stroke-linecap="butt"/>
<line x1="1352.4" y1="1185.0" x2="1352.4" y2="1153.0" stroke="#323694" stroke-width="5.8" stroke-linecap="butt"/>
<line x1="1352.4" y1="2830.5" x2="1352.4" y2="2862.0" stroke="#323694" stroke-width="5.8" stroke-linecap="butt"/>
<line x1="1432.7" y1="1185.0" x2="1432.7" y2="1167.0" stroke="#323694" stroke-width="5.8" stroke-linecap="butt"/>
<line x1="1432.7" y1="2830.5" x2="1432.7" y2="2847.0" stroke="#323694" stroke-width="5.8" stroke-linecap="butt"/>
<line x1="1513.1" y1="1185.0" x2="1513.1" y2="1153.0" stroke="#323694" stroke-width="5.8" stroke-linecap="butt"/>
<line x1="1513.1" y1="2830.5" x2="1513.1" y2="2862.0" stroke="#323694" stroke-width="5.8" stroke-linecap="butt"/>
<line x1="1593.5" y1="1185.0" x2="1593.5" y2="1167.0" stroke="#323694" stroke-width="5.8" stroke-linecap="butt"/>
<line x1="1593.5" y1="2830.5" x2="1593.5" y2="2847.0" stroke="#323694" stroke-width="5.8" stroke-linecap="butt"/>
<line x1="1673.8" y1="1185.0" x2="1673.8" y2="1153.0" stroke="#323694" stroke-width="5.8" stroke-linecap="butt"/>
<line x1="1673.8" y1="2830.5" x2="1673.8" y2="2862.0" stroke="#323694" stroke-width="5.8" stroke-linecap="butt"/>
<line x1="1754.2" y1="1185.0" x2="1754.2" y2="1167.0" stroke="#323694" stroke-width="5.8" stroke-linecap="butt"/>
<line x1="1754.2" y1="2830.5" x2="1754.2" y2="2847.0" stroke="#323694" stroke-width="5.8" stroke-linecap="butt"/>
<line x1="1834.6" y1="1185.0" x2="1834.6" y2="1153.0" stroke="#323694" stroke-width="5.8" stroke-linecap="butt"/>
<line x1="1834.6" y1="2830.5" x2="1834.6" y2="2862.0" stroke="#323694" stroke-width="5.8" stroke-linecap="butt"/>
<line x1="1914.9" y1="1185.0" x2="1914.9" y2="1167.0" stroke="#323694" stroke-width="5.8" stroke-linecap="butt"/>
<line x1="1914.9" y1="2830.5" x2="1914.9" y2="2847.0" stroke="#323694" stroke-width="5.8" stroke-linecap="butt"/>
<line x1="1995.3" y1="1185.0" x2="1995.3" y2="1153.0" stroke="#323694" stroke-width="5.8" stroke-linecap="butt"/>
<line x1="1995.3" y1="2830.5" x2="1995.3" y2="2862.0" stroke="#323694" stroke-width="5.8" stroke-linecap="butt"/>
<line x1="2075.7" y1="1185.0" x2="2075.7" y2="1167.0" stroke="#323694" stroke-width="5.8" stroke-linecap="butt"/>
<line x1="2075.7" y1="2830.5" x2="2075.7" y2="2847.0" stroke="#323694" stroke-width="5.8" stroke-linecap="butt"/>
<line x1="388.0" y1="2830.5" x2="421.0" y2="2830.5" stroke="#323694" stroke-width="5.8" stroke-linecap="butt"/>
<line x1="2156.0" y1="2830.5" x2="2123.0" y2="2830.5" stroke="#323694" stroke-width="5.8" stroke-linecap="butt"/>
<line x1="388.0" y1="2501.4" x2="421.0" y2="2501.4" stroke="#323694" stroke-width="5.8" stroke-linecap="butt"/>
<line x1="2156.0" y1="2501.4" x2="2123.0" y2="2501.4" stroke="#323694" stroke-width="5.8" stroke-linecap="butt"/>
<line x1="388.0" y1="2172.4" x2="421.0" y2="2172.4" stroke="#323694" stroke-width="5.8" stroke-linecap="butt"/>
<line x1="2156.0" y1="2172.4" x2="2123.0" y2="2172.4" stroke="#323694" stroke-width="5.8" stroke-linecap="butt"/>
<line x1="388.0" y1="1843.3" x2="421.0" y2="1843.3" stroke="#323694" stroke-width="5.8" stroke-linecap="butt"/>
<line x1="2156.0" y1="1843.3" x2="2123.0" y2="1843.3" stroke="#323694" stroke-width="5.8" stroke-linecap="butt"/>
<line x1="388.0" y1="1514.3" x2="421.0" y2="1514.3" stroke="#323694" stroke-width="5.8" stroke-linecap="butt"/>
<line x1="2156.0" y1="1514.3" x2="2123.0" y2="1514.3" stroke="#323694" stroke-width="5.8" stroke-linecap="butt"/>
<line x1="388.0" y1="1185.2" x2="421.0" y2="1185.2" stroke="#323694" stroke-width="5.8" stroke-linecap="butt"/>
<line x1="2156.0" y1="1185.2" x2="2123.0" y2="1185.2" stroke="#323694" stroke-width="5.8" stroke-linecap="butt"/>
<text x="345.0" y="2846.0" font-size="79" text-anchor="end" >0</text>
<text x="345.0" y="2516.9" font-size="79" text-anchor="end" >200</text>
<text x="345.0" y="2187.9" font-size="79" text-anchor="end" >400</text>
<text x="345.0" y="1858.8" font-size="79" text-anchor="end" >600</text>
<text x="345.0" y="1529.8" font-size="79" text-anchor="end" >800</text>
<text y="1199.2" font-size="79"><tspan x="171.56">1</tspan><tspan x="211.79">000</tspan></text>
<text x="388.5" y="2943.5" font-size="79" text-anchor="middle" >42</text>
<text x="549.2" y="2943.5" font-size="79" text-anchor="middle" >43</text>
<text x="710.0" y="2943.5" font-size="79" text-anchor="middle" >44</text>
<text x="870.7" y="2943.5" font-size="79" text-anchor="middle" >45</text>
<text x="1031.4" y="2943.5" font-size="79" text-anchor="middle" >46</text>
<text x="1192.2" y="2943.5" font-size="79" text-anchor="middle" >47</text>
<text x="1352.9" y="2943.5" font-size="79" text-anchor="middle" >48</text>
<text x="1513.6" y="2943.5" font-size="79" text-anchor="middle" >49</text>
<text x="1674.3" y="2943.5" font-size="79" text-anchor="middle" >50</text>
<text y="2943.5" font-size="79"><tspan x="1791.13">5</tspan><tspan x="1837.77">1</tspan></text>
<text x="1995.8" y="2943.5" font-size="79" text-anchor="middle" >52</text>
<text x="2158.1" y="2943.5" font-size="79" text-anchor="middle" >53</text>
<text x="0" y="0" font-size="89.2" transform="translate(936,3047) scale(1,1.03)">Wavelength (nm)</text>
<text x="0" y="0" font-size="88.8" text-anchor="middle" transform="translate(104.2,1317.5) rotate(-90) scale(1,1.04)">Counts</text>
<text x="2052.0" y="181.0" font-size="78" text-anchor="start" >a</text>
<text x="1639.5" y="306.0" font-size="101" text-anchor="start" >Ti</text>
<text x="1637.0" y="399.3" font-size="79" text-anchor="start" >20 MeV</text>
<text x="1159.8" y="226.0" font-size="71" text-anchor="start" >XII</text>
<path d="M1037,255 H1351.8 M1042,255 V316.6 M1346,255 V316.6" fill="none" stroke="#231f20" stroke-width="5.6"/>
<text x="2059.0" y="1310.5" font-size="78" text-anchor="start" >b</text>
<text x="568.0" y="1411.0" font-size="101" text-anchor="start" >Ti</text>
<text y="1504.5" font-size="79"><tspan x="570.50">1</tspan><tspan x="611.74">0 MeV</tspan></text>
<rect x="580" y="1642.2" width="516" height="69.5" fill="#70c9f0" stroke="#7bcdf1" stroke-width="6"/>
<line x1="1042.0" y1="1229.0" x2="1042.0" y2="1780.0" stroke="#00a651" stroke-width="5.5" stroke-linecap="butt"/>
<line x1="1224.0" y1="1229.0" x2="1224.0" y2="2188.0" stroke="#00a651" stroke-width="5.5" stroke-linecap="butt"/>
<line x1="1263.0" y1="1234.0" x2="1263.0" y2="2154.0" stroke="#00a651" stroke-width="5.5" stroke-linecap="butt"/>
<line x1="1950.4" y1="1229.0" x2="1950.4" y2="2036.0" stroke="#00a651" stroke-width="5.5" stroke-linecap="butt"/>
<text x="1003.0" y="1876.5" font-size="71" text-anchor="start" >XII</text>
<text x="393.0" y="2303.5" font-size="71" text-anchor="start" >X</text>
<text x="441.5" y="2102.5" font-size="71" text-anchor="start" >XI</text>
<text x="441.0" y="2185.5" font-size="71" text-anchor="start" >VIII</text>
<text x="524.0" y="2043.5" font-size="71" text-anchor="start" >XI</text>
<text x="1211.0" y="2274.5" font-size="71" text-anchor="start" >XIII</text>
<text x="1171.0" y="2357.5" font-size="71" text-anchor="start" >XIII</text>
<text x="1384.0" y="1375.5" font-size="71" text-anchor="start" >XII</text>
<text x="1385.0" y="1457.0" font-size="71" text-anchor="start" >+</text>
<text x="1384.0" y="1542.5" font-size="71" text-anchor="start" >VIII</text>
<text x="1444.0" y="2402.5" font-size="71" text-anchor="start" >X</text>
<text x="1584.7" y="2461.0" font-size="71" text-anchor="start" >IX</text>
<text x="1884.0" y="2171.5" font-size="71" text-anchor="start" >XII</text>
<text x="2007.6" y="2339.0" font-size="71" text-anchor="start" >XI</text>
<text x="1547.5" y="2544.8" font-size="69" text-anchor="start" >4f-5g</text>
<text x="1846.6" y="2255.3" font-size="69" text-anchor="start" >5g-6h</text>
<path d="M214.7,899.2H230.7V906.3H214.7Z M237.7,899.2H252.7V906.3H237.7Z" fill="#fff"/>
<path d="M1841.7,2937.2H1857.7V2944.3H1841.7Z M1864.7,2937.2H1879.7V2944.3H1864.7Z" fill="#fff"/>
<path d="M175.6,1192.2H191.6V1199.3H175.6Z M198.6,1192.2H213.6V1199.3H198.6Z" fill="#fff"/>
<path d="M574.7,1498.2H590.7V1505.3H574.7Z M597.7,1498.2H612.7V1505.3H597.7Z" fill="#fff"/>
</svg>
</body></html>
